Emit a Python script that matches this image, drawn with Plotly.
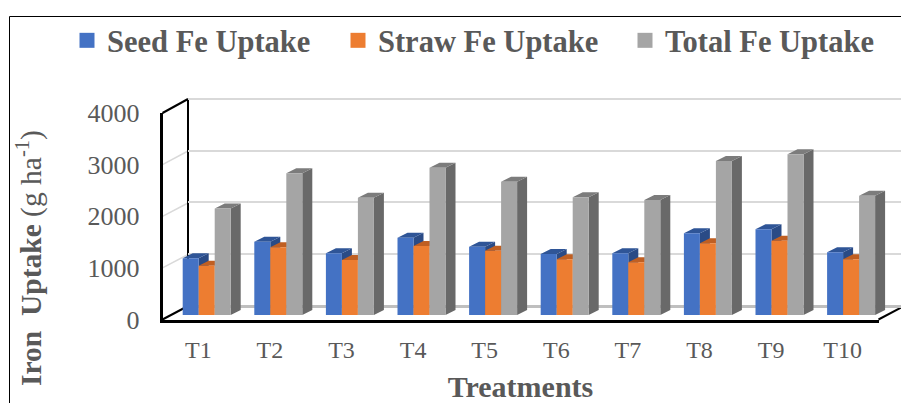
import plotly.graph_objects as go

categories = ["T1", "T2", "T3", "T4", "T5", "T6", "T7", "T8", "T9", "T10"]
seed_fe = [1100, 1418, 1193, 1495, 1321, 1180, 1193, 1580, 1658, 1212]
straw_fe = [955, 1310, 1064, 1335, 1244, 1077, 1019, 1387, 1437, 1077]
total_fe = [2060, 2740, 2270, 2850, 2578, 2276, 2224, 2979, 3108, 2308]
series_names = ["Seed Fe Uptake", "Straw Fe Uptake", "Total Fe Uptake"]
front_colors = ["#4472C4", "#ED7D31", "#A5A5A5"]
top_colors = ["#2F5597", "#C05F22", "#7C7C7C"]
side_colors = ["#2A4B86", "#B5591F", "#696969"]
y_ticks = [0, 1000, 2000, 3000, 4000]

W, H = 901, 403
TEXT = "#595959"
SERIF = "Liberation Serif"
SLOT = 71.6
PX_PER_UNIT = 0.0517
BAR_W = 48 / SLOT / 3
DEPTH_X = 10 / SLOT
DEPTH_Y = 5 / PX_PER_UNIT
xs = list(range(len(categories)))
offsets = [-BAR_W, 0, BAR_W]
series = [seed_fe, straw_fe, total_fe]


def dom_x(a, b):
    return [a / W, min(b / W, 1)]


def dom_y(bottom, top):
    return [(H - bottom) / H, (H - top) / H]


def faces(values, off):
    tx, ty, sx, sy = [], [], [], []
    for i, v in zip(xs, values):
        l, r = i + off - BAR_W / 2, i + off + BAR_W / 2
        tx += [l, r, r + DEPTH_X, l + DEPTH_X, l, None]
        ty += [v, v, v + DEPTH_Y, v + DEPTH_Y, v, None]
        sx += [r, r + DEPTH_X, r + DEPTH_X, r, r, None]
        sy += [0, DEPTH_Y, v + DEPTH_Y, v, 0, None]
    return tx, ty, sx, sy


fig = go.Figure()

# back wall (x/y): gridlines only
fig.add_trace(go.Scatter(x=[None], y=[None], xaxis="x", yaxis="y", mode="markers", showlegend=False, hoverinfo="skip"))

# side and top faces (x2/y2), drawn below the front faces
for vals, off, name, fc, tc, sc in zip(series, offsets, series_names, front_colors, top_colors, side_colors):
    tx, ty, sx, sy = faces(vals, off)
    fig.add_trace(go.Scatter(x=sx, y=sy, xaxis="x2", yaxis="y2", mode="lines", fill="toself",
                             fillcolor=sc, line=dict(width=0), showlegend=False, hoverinfo="skip"))
    fig.add_trace(go.Scatter(x=tx, y=ty, xaxis="x2", yaxis="y2", mode="lines", fill="toself",
                             fillcolor=tc, line=dict(width=0), showlegend=False, hoverinfo="skip"))

# front faces (x3/y3)
for vals, name, fc in zip(series, series_names, front_colors):
    fig.add_trace(go.Bar(x=xs, y=vals, name=name, xaxis="x3", yaxis="y3", marker=dict(color=fc, line=dict(width=0)),
                         showlegend=False))

# legend entries
for name, fc, lw in zip(series_names, front_colors, [226, 242, 220]):
    fig.add_trace(go.Scatter(x=[None], y=[None], name=name, xaxis="x4", yaxis="y4", mode="markers",
                             marker=dict(symbol="square", size=15, color=fc), legendwidth=lw))

# wall frame and border, in page pixels
def seg(x0, y0, x1, y1, color="#000000", width=2):
    return dict(type="line", xref="paper", yref="paper", x0=x0 / W, x1=x1 / W, y0=1 - y0 / H, y1=1 - y1 / H,
                line=dict(color=color, width=width), layer="below")


shapes = [
    seg(9.5, 16.5, 901, 16.5, width=1), seg(9.5, 16.5, 9.5, 403, width=1),
    seg(162.5, 164.7, 188, 151, "#D9D9D9", 1.5), seg(162.5, 216.3, 188, 203, "#D9D9D9", 1.5),
    seg(162.5, 267.9, 188, 254.5, "#D9D9D9", 1.5),
    seg(162.5, 113, 188, 99), seg(188, 99, 188, 306), seg(162.5, 319.5, 188, 306),
    seg(878.5, 319.5, 904, 306),
]

layout_axes = dict(
    xaxis=dict(domain=dom_x(188, 901), range=[-0.5, -0.5 + 713 / SLOT], visible=False, anchor="y"),
    yaxis=dict(domain=dom_y(306, 99 - 5.175), range=[0, 4100], tickvals=y_ticks, showticklabels=False, showline=False,
               showgrid=True, gridcolor="#D9D9D9", gridwidth=1.5, zeroline=True, zerolinecolor="#BFBFBF",
               zerolinewidth=2.5, anchor="x"),
    xaxis2=dict(domain=dom_x(170.9, 886.9), range=[-0.5, 9.5], visible=False, anchor="y2"),
    yaxis2=dict(domain=dom_y(315, 108.2), range=[0, 4000], visible=False, anchor="x2"),
    xaxis3=dict(domain=dom_x(170.9, 886.9), range=[-0.5, 9.5], visible=False, anchor="y3"),
    yaxis3=dict(domain=dom_y(315, 108.2), range=[0, 4000], visible=False, anchor="x3"),
    xaxis4=dict(domain=dom_x(162.5, 878.5), range=[-0.5, 9.5], tickvals=xs, ticktext=categories, anchor="y4",
                showline=True, linecolor="#000000", linewidth=2.5, showgrid=False, zeroline=False, ticklen=0,
                ticklabelstandoff=7, tickfont=dict(family=SERIF, size=24, color=TEXT),
                title=dict(text="<b>Treatments</b>", font=dict(family=SERIF, size=30, color=TEXT), standoff=32)),
    yaxis4=dict(domain=dom_y(319.5, 113), range=[0, 4000], tickvals=y_ticks, anchor="x4",
                showline=True, linecolor="#000000", linewidth=2.5, showgrid=False, zeroline=False, ticklen=0,
                ticklabelstandoff=15, tickfont=dict(family=SERIF, size=26, color=TEXT)),
)

fig.update_layout(
    width=W, height=H, margin=dict(l=0, r=0, t=0, b=0, autoexpand=False), paper_bgcolor="white",
    plot_bgcolor="rgba(0,0,0,0)",
    barmode="group", bargap=1 - 48 / SLOT, bargroupgap=0, shapes=shapes,
    legend=dict(orientation="h", x=67 / W, y=1 - 14 / H, xanchor="left", yanchor="top",
                font=dict(family=SERIF, size=30.5, color=TEXT, weight="bold"), itemwidth=30,
                bgcolor="rgba(0,0,0,0)"),
    annotations=[dict(text="<b>Iron  Uptake</b> (g ha<sup>-1</sup>)", xref="paper", yref="paper",
                      x=29 / W, y=1 - 258 / H, xanchor="center", yanchor="middle", textangle=-90, showarrow=False,
                      font=dict(family=SERIF, size=29.5, color=TEXT))],
    **layout_axes,
)

fig.write_html("out.html", post_script="document.body.style.margin='0';", config={"displayModeBar": False})
